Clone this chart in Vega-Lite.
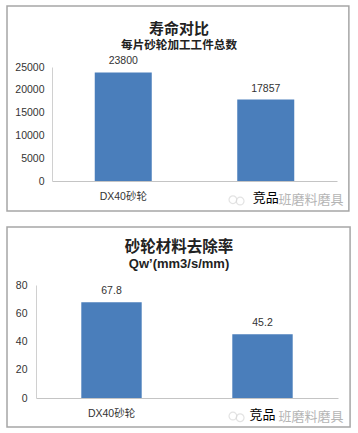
{
"$schema":"https://vega.github.io/schema/vega-lite/v6.json",
"background":"white",
"padding":{"left":6,"top":5,"right":0,"bottom":0},
"spacing":14,
"config":{"view":{"stroke":null},"font":"Liberation Sans, Noto Sans CJK SC"},
"datasets":{
"life":[{"wheel":"DX40砂轮","value":23800},{"wheel":"竞品","value":17857}],
"rate":[{"wheel":"DX40砂轮","value":67.8},{"wheel":"竞品","value":45.2}],
"mark":[{"note":"班磨料磨具"}],
"frame":[{"note":"frame"}],
"logo1":[{"a":0.652,"b":-4100},{"a":0.676,"b":-4400}],
"logo2":[{"a":0.652,"b":-12.8},{"a":0.676,"b":-14}]
},
"vconcat":[
{"width":302,"height":114,
"title":{"text":"寿命对比","subtitle":"每片砂轮加工工件总数","anchor":"middle","frame":"group","dx":-8,"offset":-46,"font":"Noto Sans CJK SC","fontSize":15,"fontWeight":"bold","color":"#222222","subtitleFont":"Noto Sans CJK SC","subtitleFontSize":11.6,"subtitleFontWeight":"bold","subtitleColor":"#222222","subtitlePadding":3},
"resolve":{"scale":{"x":"independent"}},
"layer":[
{"data":{"name":"frame"},"mark":{"type":"rect","fillOpacity":0,"stroke":"#a6a6a6","strokeWidth":1.5,"clip":false},
"encoding":{"x":{"datum":-0.096,"type":"quantitative","scale":{"domain":[0,1]},"axis":null},"x2":{"datum":1.036},"y":{"datum":38377,"type":"quantitative","scale":{"domain":[0,25000],"nice":false},"axis":{"title":null,"offset":-16,"values":[0,5000,10000,15000,20000,25000],"tickCount":6,"format":"d","grid":false,"ticks":false,"domainColor":"#d0d0d0","labelFontSize":10.5,"labelColor":"#333333","labelPadding":8}},"y2":{"datum":-6579}}},
{"data":{"name":"life"},"mark":{"type":"bar","color":"#4a7ebb"},
"encoding":{"x":{"field":"wheel","type":"nominal","sort":null,"scale":{"range":[16,301],"paddingInner":0.6,"paddingOuter":0.3},"axis":{"title":null,"labelAngle":0,"ticks":false,"domainColor":"#c4c4c4","labelFontSize":{"condition":{"test":"datum.value === '竞品'","value":13},"value":10.5},"labelColor":{"condition":{"test":"datum.value === '竞品'","value":"#000000"},"value":"#333333"},"labelPadding":10,"labelFont":"Liberation Sans, Noto Sans CJK SC"}},
"y":{"field":"value","type":"quantitative","scale":{"domain":[0,25000],"nice":false},"axis":{"title":null,"offset":-16,"values":[0,5000,10000,15000,20000,25000],"tickCount":6,"format":"d","grid":false,"ticks":false,"domainColor":"#d0d0d0","labelFontSize":10.5,"labelColor":"#333333","labelPadding":8}}}},
{"data":{"name":"life"},"mark":{"type":"text","dy":-11,"fontSize":10.5,"color":"#333333"},
"encoding":{"x":{"field":"wheel","type":"nominal","sort":null,"scale":{"range":[16,301],"paddingInner":0.6,"paddingOuter":0.3},"axis":null},"y":{"field":"value","type":"quantitative","scale":{"domain":[0,25000],"nice":false}},"text":{"field":"value","type":"quantitative","format":"d"}}},
{"data":{"name":"mark"},"mark":{"type":"text","fontSize":13,"color":"#b5b5b5","font":"Noto Sans CJK SC"},
"encoding":{"x":{"datum":0.911,"type":"quantitative","scale":{"domain":[0,1]},"axis":null},"y":{"datum":-4167,"type":"quantitative","scale":{"domain":[0,25000],"nice":false}},"text":{"field":"note"}}},
{"data":{"name":"logo1"},"mark":{"type":"point","size":60,"color":"#d8d8d8","strokeWidth":1.2},
"encoding":{"x":{"field":"a","type":"quantitative","scale":{"domain":[0,1]},"axis":null},"y":{"field":"b","type":"quantitative","scale":{"domain":[0,25000],"nice":false}}}}
]},
{"width":302,"height":113,
"title":{"text":"砂轮材料去除率","subtitle":"Qw’(mm3/s/mm)","anchor":"middle","frame":"group","dx":-8,"offset":-45,"font":"Noto Sans CJK SC","fontSize":15.5,"fontWeight":"bold","color":"#222222","subtitleFont":"Liberation Sans","subtitleFontSize":13,"subtitleFontWeight":"bold","subtitleColor":"#222222","subtitlePadding":3},
"resolve":{"scale":{"x":"independent"}},
"layer":[
{"data":{"name":"frame"},"mark":{"type":"rect","fillOpacity":0,"stroke":"#a6a6a6","strokeWidth":1.5,"clip":false},
"encoding":{"x":{"datum":-0.096,"type":"quantitative","scale":{"domain":[0,1]},"axis":null},"x2":{"datum":1.04},"y":{"datum":121.06,"type":"quantitative","scale":{"domain":[0,80],"nice":false},"axis":{"title":null,"values":[0,20,40,60,80],"tickCount":5,"grid":false,"ticks":false,"domainColor":"#d0d0d0","labelFontSize":10.5,"labelColor":"#333333","labelPadding":9}},"y2":{"datum":-20.5}}},
{"data":{"name":"rate"},"mark":{"type":"bar","color":"#4a7ebb"},
"encoding":{"x":{"field":"wheel","type":"nominal","sort":null,"scale":{"paddingInner":0.6,"paddingOuter":0.3},"axis":{"title":null,"labelAngle":0,"ticks":false,"domainColor":"#c4c4c4","labelFontSize":{"condition":{"test":"datum.value === '竞品'","value":13},"value":10.5},"labelColor":{"condition":{"test":"datum.value === '竞品'","value":"#000000"},"value":"#333333"},"labelPadding":10,"labelFont":"Liberation Sans, Noto Sans CJK SC"}},
"y":{"field":"value","type":"quantitative","scale":{"domain":[0,80],"nice":false},"axis":{"title":null,"values":[0,20,40,60,80],"tickCount":5,"grid":false,"ticks":false,"domainColor":"#d0d0d0","labelFontSize":10.5,"labelColor":"#333333","labelPadding":9}}}},
{"data":{"name":"rate"},"mark":{"type":"text","dy":-11,"fontSize":10.5,"color":"#333333"},
"encoding":{"x":{"field":"wheel","type":"nominal","sort":null,"scale":{"paddingInner":0.6,"paddingOuter":0.3},"axis":null},"y":{"field":"value","type":"quantitative","scale":{"domain":[0,80],"nice":false}},"text":{"field":"value","type":"quantitative","format":".1f"}}},
{"data":{"name":"mark"},"mark":{"type":"text","fontSize":13,"color":"#b5b5b5","font":"Noto Sans CJK SC"},
"encoding":{"x":{"datum":0.911,"type":"quantitative","scale":{"domain":[0,1]},"axis":null},"y":{"datum":-13.5,"type":"quantitative","scale":{"domain":[0,80],"nice":false}},"text":{"field":"note"}}},
{"data":{"name":"logo2"},"mark":{"type":"point","size":60,"color":"#d8d8d8","strokeWidth":1.2},
"encoding":{"x":{"field":"a","type":"quantitative","scale":{"domain":[0,1]},"axis":null},"y":{"field":"b","type":"quantitative","scale":{"domain":[0,80],"nice":false}}}}
]}
]
}
